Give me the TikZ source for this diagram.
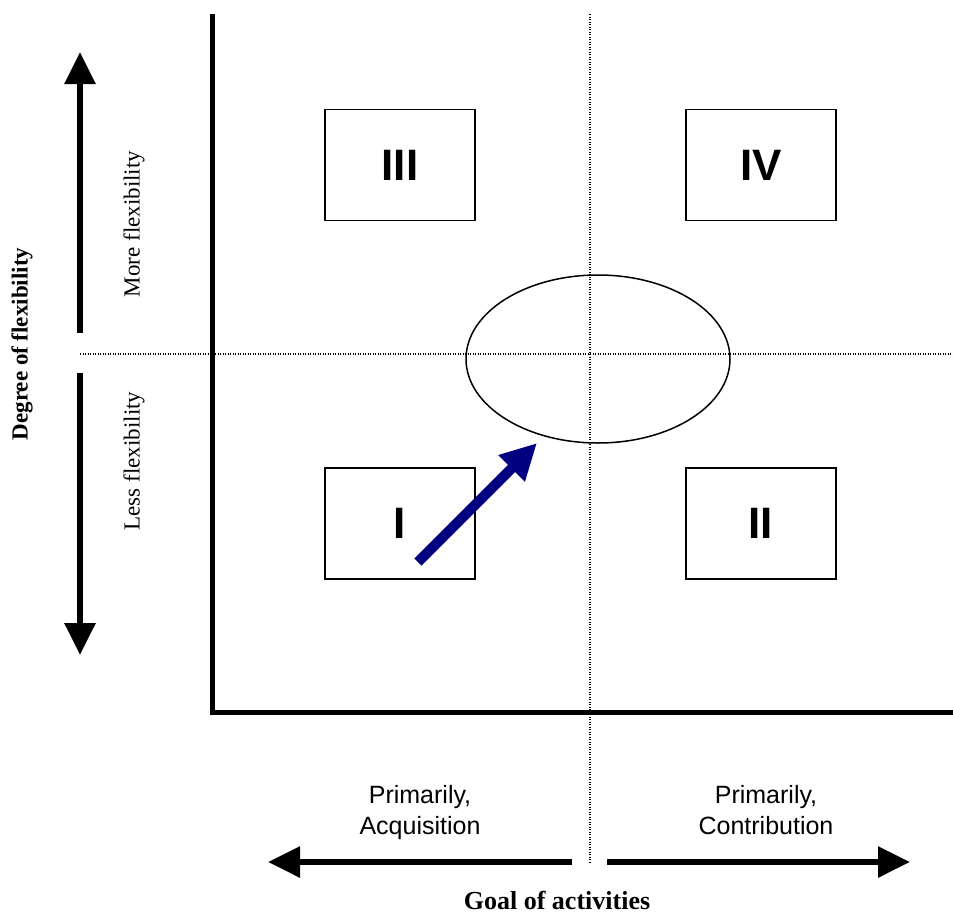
\documentclass[tikz,border=0pt]{standalone}
\usepackage{fontspec}
\setmainfont{Liberation Serif}
\setsansfont{Liberation Sans}
\usetikzlibrary{arrows.meta}
\usetikzlibrary{shapes.geometric}
\usetikzlibrary{positioning}

\definecolor{arrowblue}{RGB}{0,0,128}

\begin{document}
\begin{tikzpicture}[x=1pt,y=-1pt,
    quadbox/.style={draw=black, line width=1.8pt, minimum width=150pt, minimum height=111pt, inner sep=0pt, font=\sffamily\bfseries\fontsize{44}{44}\selectfont},
    bigarrow/.style={line width=6pt, -{Triangle[width=30pt,length=32pt]}},
    grid line/.style={line width=1.2pt, dash pattern=on 1.2pt off 1.3pt},
    sidelabel/.style={rotate=90, font=\fontsize{23}{23}\selectfont},
    goallabel/.style={align=center, anchor=north, inner sep=0pt, font=\sffamily\fontsize{25}{31}\selectfont}]
    \useasboundingbox (0,0) rectangle (953,918);

    % Quadrant grid:
    % Dotted lines through the middle of the plane
    \draw [grid line] (80,354) -- (953,354);
    \draw [grid line] (590,14) -- (590,862);

    % Axes:
    \coordinate (origin) at (212,712);
    \coordinate (ytop) at (212,14);
    \coordinate (xend) at (953,712);
    \draw [line width=5pt] (ytop) -- (origin) -- (xend);

    % Quadrants
    \node [quadbox] (q3) at (400,165) {III};
    \node [quadbox, right=209pt of q3] (q4) {IV};
    \node [quadbox] (q1) at (400,523.5) {I};
    \node [quadbox, right=209pt of q1] (q2) {II};

    % Target area round the centre
    \node [draw=black, line width=1.5pt, ellipse, minimum width=264pt, minimum height=168pt, inner sep=0pt] (centre) at (598,359) {};

    % Shift from quadrant I
    \coordinate (shiftstart) at (418,562);
    \coordinate (shiftend) at (537,443);
    \draw [arrowblue, line width=10pt, -{Triangle[width=35pt,length=36pt]}] (shiftstart) -- (shiftend);

    % Flexibility arrows and labels
    \coordinate (flexmid1) at (80,333);
    \coordinate (flextop) at (80,52);
    \coordinate (flexmid2) at (80,373);
    \coordinate (flexbot) at (80,655);
    \draw [bigarrow] (flexmid1) -- (flextop);
    \draw [bigarrow] (flexmid2) -- (flexbot);
    \node [sidelabel] (more) at (134,224) {More flexibility};
    \node [sidelabel] (less) at (134,461) {Less flexibility};
    \node [sidelabel, font=\bfseries\fontsize{23}{23}\selectfont] (degree) at (22,344) {Degree of flexibility};

    % Goal arrows and labels
    \coordinate (goalmid1) at (572,862);
    \coordinate (goalleft) at (268,862);
    \coordinate (goalmid2) at (607,862);
    \coordinate (goalright) at (910,862);
    \draw [bigarrow] (goalmid1) -- (goalleft);
    \draw [bigarrow] (goalmid2) -- (goalright);
    \node [goallabel] (acq) at (420,785) {Primarily,\\Acquisition};
    \node [goallabel] (contr) at (766,785) {Primarily,\\Contribution};
    \node [font=\bfseries\fontsize{26}{26}\selectfont, inner sep=0pt] (goal) at (557,900) {Goal of activities};
\end{tikzpicture}
\end{document}
